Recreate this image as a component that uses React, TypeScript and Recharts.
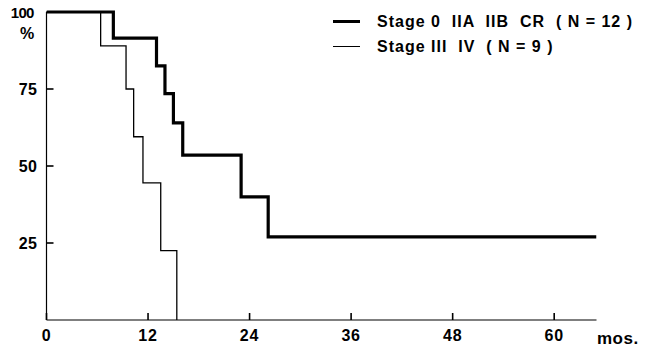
import { LineChart, Line, XAxis, YAxis } from "recharts";

// survival curves (months, % surviving)
const stageEarlyMonths = [0, 7.9, 13.0, 14.0, 15.0, 16.1, 23.0, 26.2, 65];
const stageEarlyPct = [100, 91.5, 82.5, 73.5, 64, 53.5, 40, 27, 27];
const stageLateMonths = [0, 6.4, 9.4, 10.3, 11.4, 13.5, 15.4];
const stageLatePct = [100, 89, 75, 59.5, 44.5, 22.5, 0];

const xTicks = [0, 12, 24, 36, 48, 60];
const yTicks = [25, 50, 75, 100];

const SERIES = [
  { name: "Stage 0  IIA  IIB  CR  ( N = 12 )", width: 3.2 },
  { name: "Stage III  IV  ( N = 9 )", width: 1.3 },
];

const FONT = "'Liberation Sans', Arial, Helvetica, sans-serif";

const early = stageEarlyMonths.map((t, i) => ({ t, s: stageEarlyPct[i] }));
const late = stageLateMonths.map((t, i) => ({ t, s: stageLatePct[i] }));

// tickSize is negative so the marks point into the plot; tickMargin brings the label anchor back to the axis
function XTick({ x, y, payload }: any) {
  return (
    <text x={Number(x)} y={Number(y) + 21} textAnchor="middle" fontFamily={FONT} fontWeight="bold" fontSize={16} letterSpacing={0.8} fill="#000">
      {payload.value}
    </text>
  );
}

function YTick({ x, y, payload }: any) {
  const top = payload.value === 100;
  return (
    <text
      x={Number(x) - (top ? 13 : 9)}
      y={Number(y) + 6}
      textAnchor="end"
      fontFamily={FONT}
      fontWeight="bold"
      fontSize={top ? 15 : 16}
      letterSpacing={top ? -0.8 : 0.5}
      fill="#000"
    >
      {payload.value}
    </text>
  );
}

export default function App() {
  return (
    <div style={{ position: "absolute", left: 0, top: 0, width: 653, height: 350, background: "#fff" }}>
      <LineChart width={653} height={350} margin={{ top: 12, right: 56.5, left: 6.5, bottom: 0 }}>
        <XAxis
          type="number"
          dataKey="t"
          domain={[0, 65]}
          ticks={xTicks}
          allowDataOverflow
          height={30}
          tickSize={-7}
          tickMargin={7}
          tickLine={{ stroke: "#000", strokeWidth: 1.6 }}
          tick={<XTick />}
          axisLine={{ stroke: "#000", strokeWidth: 1.2 }}
        />
        <YAxis
          type="number"
          domain={[0, 100]}
          ticks={yTicks}
          width={40}
          tickSize={-7}
          tickMargin={7}
          tickLine={{ stroke: "#000", strokeWidth: 1.6 }}
          tick={<YTick />}
          axisLine={{ stroke: "#000", strokeWidth: 1.2 }}
        />
        <Line data={early} dataKey="s" type="stepAfter" stroke="#000" strokeWidth={SERIES[0].width} dot={false} isAnimationActive={false} />
        <Line data={late} dataKey="s" type="stepAfter" stroke="#000" strokeWidth={SERIES[1].width} dot={false} isAnimationActive={false} />
      </LineChart>

      <div style={{ position: "absolute", left: 20, top: 25, fontFamily: FONT, fontWeight: "bold", fontSize: 16 }}>%</div>
      <div style={{ position: "absolute", left: 597, top: 329, fontFamily: FONT, fontWeight: "bold", fontSize: 17, letterSpacing: 0.5 }}>mos.</div>

      <div style={{ position: "absolute", left: 333, top: 9, fontFamily: FONT, fontWeight: "bold", fontSize: 16, letterSpacing: 1 }}>
        {SERIES.map((s, i) => (
          <div key={i} style={{ display: "flex", alignItems: "center", height: 25, whiteSpace: "pre" }}>
            <div style={{ width: 27, height: 0, borderTop: `${s.width}px solid #000`, marginRight: 17 }} />
            <span>{s.name}</span>
          </div>
        ))}
      </div>
    </div>
  );
}
